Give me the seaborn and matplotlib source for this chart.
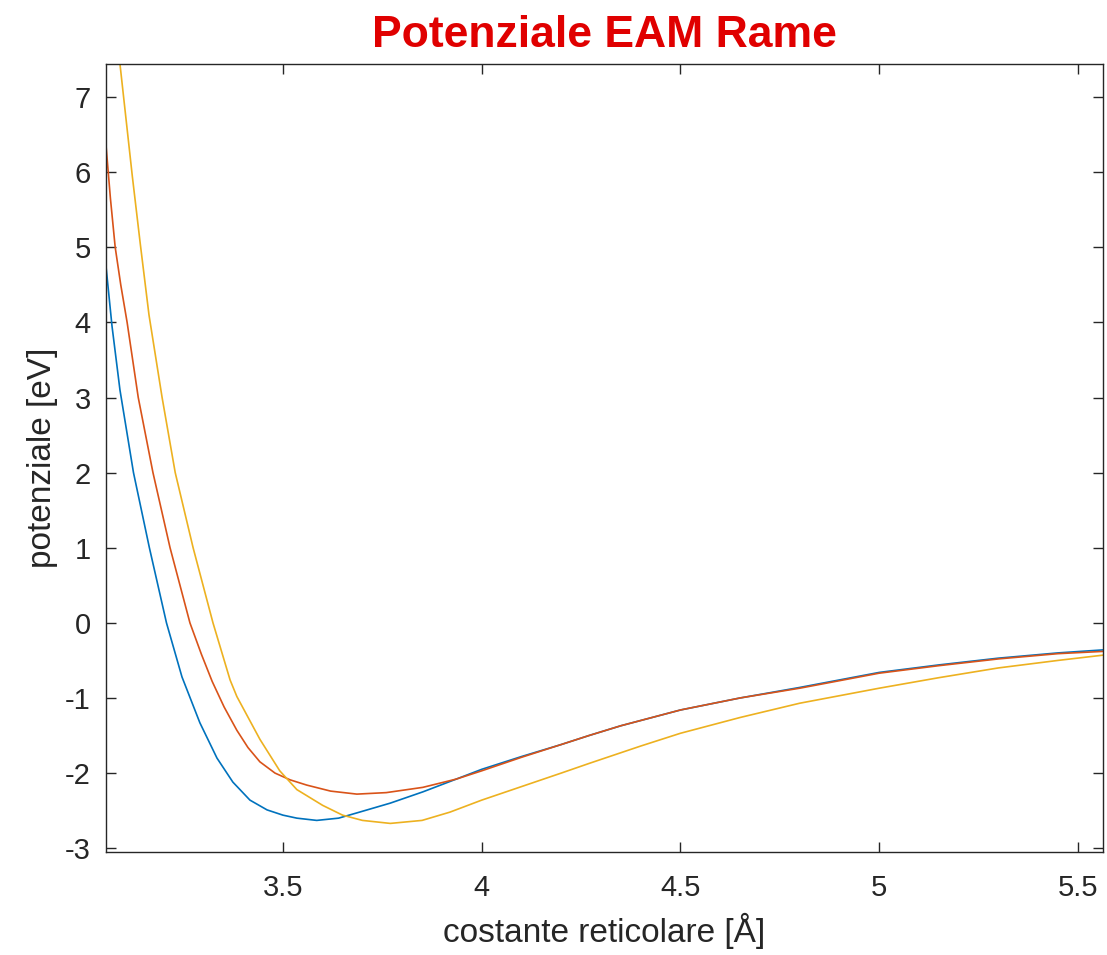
"""
Potenziale EAM del rame: energia vs costante reticolare (tre parametrizzazioni).
"""
import matplotlib
matplotlib.use('Agg')
import matplotlib.pyplot as plt
import seaborn as sns
import pandas as pd

# valori
x_blu = [3.055, 3.070, 3.090, 3.124, 3.164, 3.207, 3.246, 3.291, 3.334, 3.374,
         3.417, 3.460, 3.500, 3.535, 3.585, 3.640, 3.686, 3.770, 3.852, 3.936,
         4.000, 4.100, 4.200, 4.270, 4.350, 4.500, 4.650, 4.800, 5.000, 5.150,
         5.300, 5.450, 5.563]
y_blu = [4.74, 3.95, 3.10, 2.00, 1.00, 0.00, -0.72, -1.33, -1.80, -2.12,
         -2.36, -2.49, -2.56, -2.60, -2.63, -2.60, -2.53, -2.40, -2.25, -2.08,
         -1.95, -1.78, -1.62, -1.50, -1.37, -1.16, -1.00, -0.86, -0.66, -0.56,
         -0.47, -0.40, -0.36]

x_rosso = [3.055, 3.066, 3.078, 3.092, 3.108, 3.136, 3.173, 3.216, 3.266, 3.295,
           3.322, 3.352, 3.384, 3.412, 3.442, 3.480, 3.518, 3.560, 3.620, 3.686,
           3.760, 3.852, 3.936, 4.000, 4.100, 4.200, 4.270, 4.350, 4.500, 4.650,
           4.800, 5.000, 5.150, 5.300, 5.450, 5.563]
y_rosso = [6.35, 5.65, 5.00, 4.50, 4.00, 3.00, 2.00, 1.00, 0.00, -0.42,
           -0.78, -1.12, -1.43, -1.66, -1.85, -2.00, -2.09, -2.16, -2.24, -2.28,
           -2.26, -2.19, -2.08, -1.97, -1.79, -1.62, -1.50, -1.37, -1.16, -1.00,
           -0.87, -0.67, -0.57, -0.48, -0.41, -0.38]

x_giallo = [3.055, 3.090, 3.121, 3.141, 3.163, 3.196, 3.229, 3.274, 3.324, 3.367,
            3.384, 3.442, 3.492, 3.535, 3.600, 3.650, 3.700, 3.770, 3.850, 3.920,
            4.000, 4.100, 4.200, 4.271, 4.400, 4.500, 4.650, 4.800, 5.000, 5.150,
            5.300, 5.450, 5.563]
y_giallo = [9.10, 7.44, 5.95, 5.05, 4.10, 3.00, 2.00, 1.00, 0.00, -0.76,
            -0.98, -1.55, -1.97, -2.22, -2.43, -2.56, -2.63, -2.67, -2.63, -2.52,
            -2.36, -2.18, -2.00, -1.87, -1.64, -1.47, -1.26, -1.07, -0.87, -0.73,
            -0.60, -0.50, -0.43]

serie = ['blu', 'rosso', 'giallo']
colori = ['#0072BD', '#D95319', '#EDB120']

df = pd.concat([
    pd.DataFrame({'a': x_blu, 'E': y_blu, 'serie': 'blu'}),
    pd.DataFrame({'a': x_rosso, 'E': y_rosso, 'serie': 'rosso'}),
    pd.DataFrame({'a': x_giallo, 'E': y_giallo, 'serie': 'giallo'}),
], ignore_index=True)

sns.set_style('ticks')
plt.rcParams['font.family'] = ['Liberation Sans', 'DejaVu Sans']
plt.rcParams['axes.unicode_minus'] = False

fig = plt.figure(figsize=(11.07, 9.55), dpi=100)
ax = fig.add_axes([0.0958, 0.1079, 0.9006, 0.8251])

sns.lineplot(data=df, x='a', y='E', hue='serie', hue_order=serie,
             palette=colori, sort=False, estimator=None, legend=False,
             linewidth=1.2, ax=ax)

ax.set_xlim(3.055, 5.563)
ax.set_ylim(-3.05, 7.44)
ax.set_xticks([3.5, 4, 4.5, 5, 5.5])
ax.set_xticklabels(['3.5', '4', '4.5', '5', '5.5'])
ax.set_yticks(range(-3, 8))

ax.tick_params(direction='in', length=7, width=1, top=True, right=True,
               labelsize=21, labelcolor='#262626', color='#262626')
ax.tick_params(axis='x', pad=16)
ax.tick_params(axis='y', pad=11)
for s in ax.spines.values():
    s.set_linewidth(1.0)
    s.set_color('#262626')

ax.set_xlabel('costante reticolare [Å]', fontsize=24, color='#262626', labelpad=8)
ax.set_ylabel('potenziale [eV]', fontsize=24, color='#262626', labelpad=5)
ax.set_title('Potenziale EAM Rame', fontsize=32, fontweight='bold',
             color='#E00000', pad=12)

fig.savefig('out.png', dpi=100)
